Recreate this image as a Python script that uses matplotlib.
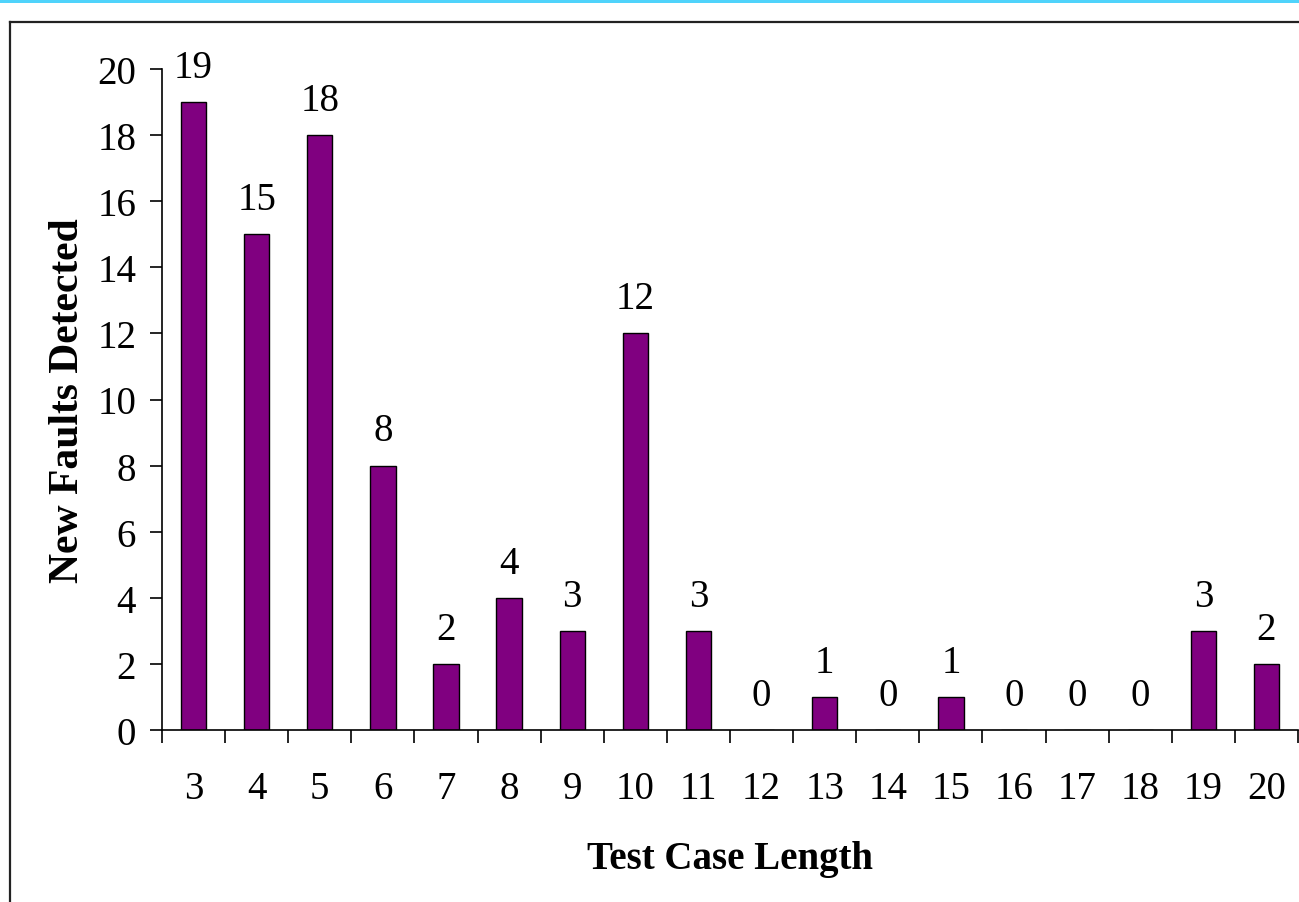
#!/usr/bin/env python3

"""
New faults detected per test case length.
"""

import matplotlib.pyplot as plt
from matplotlib.lines import Line2D
from matplotlib.patches import Rectangle
import numpy as np

lengths = ["3", "4", "5", "6", "7", "8", "9", "10", "11", "12",
           "13", "14", "15", "16", "17", "18", "19", "20"]
faults = [19, 15, 18, 8, 2, 4, 3, 12, 3, 0, 1, 0, 1, 0, 0, 0, 3, 2]

plt.rcParams["font.family"] = ["Liberation Serif", "DejaVu Serif"]

W, H = 1299, 903
fig = plt.figure(figsize=(W / 100, H / 100), dpi=100)

# cyan band on top and the outer frame
fig.add_artist(Rectangle((0, 1 - 4 / H), 1, 4 / H, transform=fig.transFigure,
                         color="#4fd3fb", lw=0))
fig.add_artist(Line2D([10 / W, 10 / W], [0, 1 - 23 / H], transform=fig.transFigure,
                      color="#222222", lw=1.6))
fig.add_artist(Line2D([10 / W, 1], [1 - 23 / H, 1 - 23 / H], transform=fig.transFigure,
                      color="#222222", lw=1.6))

ax = fig.add_axes([162 / W, (H - 731) / H, (1298 - 162) / W, (731 - 70) / H])

x = np.arange(len(lengths))
ax.bar(x, faults, width=0.4, color="#800080", edgecolor="black", linewidth=1)

for xi, v in zip(x, faults):
    ax.annotate(str(v), (xi, v), xytext=(0, 25), textcoords="offset points",
                ha="center", va="center", fontsize=28)

ax.set_xlim(-0.5, len(lengths) - 0.5)
ax.set_ylim(0, 20)
ax.set_yticks(range(0, 21, 2))
ax.tick_params(axis="y", labelsize=28, length=8.6, width=1.2, pad=10, direction="out")

# boundary ticks without labels, labels centred under bars
ax.set_xticks(np.arange(-0.5, len(lengths), 1.0))
ax.set_xticklabels([])
ax.tick_params(axis="x", which="major", length=9.5, width=1.2, direction="out")
ax.set_xticks(x, minor=True)
ax.set_xticklabels(lengths, minor=True)
ax.tick_params(axis="x", which="minor", length=0, labelsize=28, pad=29)

for s in ["top", "right"]:
    ax.spines[s].set_visible(False)
for s in ["left", "bottom"]:
    ax.spines[s].set_linewidth(1.2)

ax.set_xlabel("Test Case Length", fontsize=28, fontweight="bold")
ax.xaxis.set_label_coords(0.5, -0.195)
ax.set_ylabel("New Faults Detected", fontsize=30, fontweight="bold")
ax.yaxis.set_label_coords(-0.0827, 0.5)
ax.xaxis.label.set_va("center")
ax.yaxis.label.set_va("center")

fig.savefig("out.png", dpi=100)
